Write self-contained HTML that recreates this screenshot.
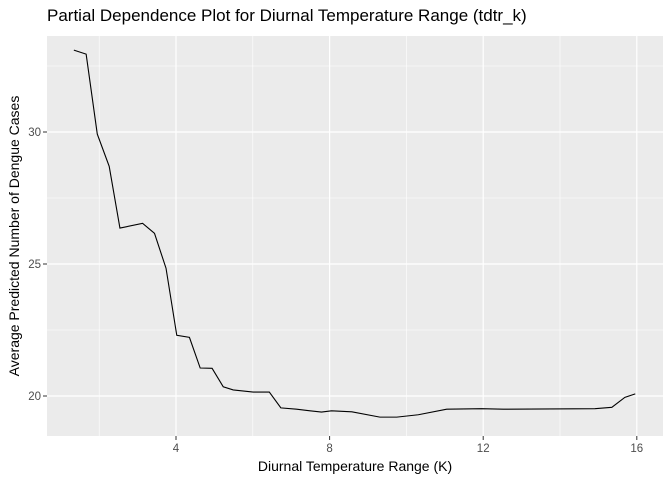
<!DOCTYPE html>
<html><head><meta charset="utf-8"><style>
body{margin:0;background:#fff;}
svg{display:block;font-family:"Liberation Sans",Arial,sans-serif;}
</style></head><body>
<svg id="chart" width="672" height="480">
<rect x="0" y="0" width="672" height="480" fill="#fff"/>
<text x="47" y="21" font-size="17" fill="#000">Partial Dependence Plot for Diurnal Temperature Range (tdtr_k)</text>
<rect x="47" y="36" width="616" height="400" fill="#ebebeb"/>
<g id="grid"></g>
<g id="axes"></g>
<polyline id="line" fill="none" stroke="#000" stroke-width="1.1"/>
<text x="355" y="471" font-size="14" text-anchor="middle" fill="#000">Diurnal Temperature Range (K)</text>
<text transform="translate(19,236) rotate(-90)" font-size="14" text-anchor="middle" fill="#000">Average Predicted Number of Dengue Cases</text>
</svg>
<script>
const xValues=[1.34,1.66,1.95,2.26,2.54,3.13,3.44,3.74,4.02,4.35,4.63,4.94,5.23,5.49,6.01,6.43,6.73,7.14,7.49,7.79,8.05,8.58,9.31,9.75,10.31,11.05,11.96,12.52,14.91,15.35,15.69,15.96];
const yValues=[33.1,32.95,29.92,28.7,26.36,26.54,26.16,24.84,22.3,22.22,21.06,21.05,20.35,20.23,20.15,20.15,19.55,19.5,19.44,19.39,19.44,19.4,19.2,19.2,19.29,19.5,19.52,19.5,19.52,19.57,19.95,20.08];
const xTicks=[4,8,12,16];
const yTicks=[20,25,30];
const xMinor=[2,6,10,14];
const yMinor=[17.5,22.5,27.5,32.5];
const X=v=>22.4+v*38.4;
const Y=v=>924-v*26.4;
const NS='http://www.w3.org/2000/svg';
const grid=document.getElementById('grid'),axes=document.getElementById('axes');
function ln(p,x1,y1,x2,y2,c,w){const l=document.createElementNS(NS,'line');l.setAttribute('x1',x1);l.setAttribute('y1',y1);l.setAttribute('x2',x2);l.setAttribute('y2',y2);l.setAttribute('stroke',c);l.setAttribute('stroke-width',w);p.appendChild(l);return l;}
function tx(p,x,y,s,a){const t=document.createElementNS(NS,'text');t.setAttribute('x',x);t.setAttribute('y',y);t.setAttribute('font-size','11.5');t.setAttribute('fill','#4d4d4d');t.setAttribute('text-anchor',a);t.textContent=s;p.appendChild(t);return t;}
xMinor.forEach(v=>{const l=ln(grid,X(v),36,X(v),436,'#fff',0.6);

});
yMinor.forEach(v=>{if(Y(v)<36||Y(v)>436)return;const l=ln(grid,47,Y(v),663,Y(v),'#fff',0.6);

});
xTicks.forEach(v=>{const l=ln(grid,X(v),36,X(v),436,'#fff',1.2);


const k=ln(axes,X(v),436,X(v),440,'#333',1);


const t=tx(axes,X(v),452,String(v),'middle');

});
yTicks.forEach(v=>{const l=ln(grid,47,Y(v),663,Y(v),'#fff',1.2);


const k=ln(axes,43,Y(v),47,Y(v),'#333',1);


const t=tx(axes,41,Y(v)+4,String(v),'end');

});
document.getElementById('line').setAttribute('points',xValues.map((x,i)=>X(x)+','+Y(yValues[i])).join(' '));
</script>
</body></html>
